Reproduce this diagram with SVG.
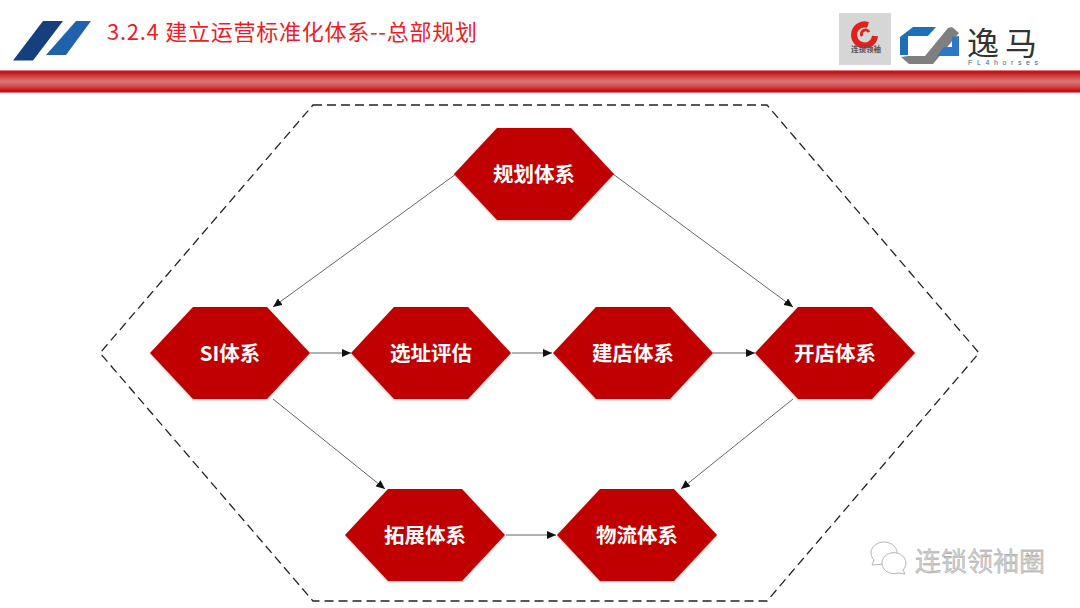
<svg xmlns="http://www.w3.org/2000/svg" width="1080" height="608" viewBox="0 0 1080 608">
<style>
text{font-family:"Noto Sans CJK SC","Liberation Sans",sans-serif}
.hex{fill:#c00000;filter:url(#sh)}
.lab{fill:#fff;font-size:20.500px;font-weight:700;text-anchor:middle}
.con{fill:none;stroke:#666;stroke-width:1;marker-end:url(#arr)}
</style>
<defs>
<marker id="arr" markerUnits="userSpaceOnUse" markerWidth="10" markerHeight="8" refX="9" refY="4" orient="auto"><path d="M0 0L9 4L0 8Z" fill="#111"/></marker>
<polygon id="hx" points="-80,0 -37,-46 37,-46 80,0 37,46 -37,46"/>
<linearGradient id="bar" x1="0" y1="0" x2="0" y2="1"><stop offset="0" stop-color="#f0a8a0"/><stop offset=".07" stop-color="#c00d10"/><stop offset=".3" stop-color="#d0484a"/><stop offset=".5" stop-color="#dc7676"/><stop offset=".72" stop-color="#d04a4c"/><stop offset=".93" stop-color="#bf0508"/><stop offset="1" stop-color="#f3aaa0"/></linearGradient>
<filter id="sh" x="-5%" y="-5%" width="110%" height="115%"><feDropShadow dx="0" dy="1" stdDeviation="1" flood-color="#000" flood-opacity=".25"/></filter>
</defs>
<rect width="1080" height="608" fill="#fff"/>
<g id="header">
<rect x="0" y="70" width="1080" height="23" fill="url(#bar)"/>
<polygon points="13,60.500 43,21 63,21 33,60.500" fill="#163f7e"/>
<polygon points="46,55 76,21 91,21 66,55" fill="#1f62ab"/>
<text x="107" y="40" font-size="22" textLength="370" lengthAdjust="spacing" fill="#ee1c25">3.2.4 建立运营标准化体系--总部规划</text>
</g>
<g id="logos">
<rect x="839" y="13" width="52" height="52" fill="#d6d6d6"/>
<path d="M868 25A10.500 10.500 0 1 0 875 36" fill="none" stroke="#e0201c" stroke-width="6"/>
<path d="M862 36A4 4 0 0 1 869 32" fill="none" stroke="#e0201c" stroke-width="3"/>
<text x="866" y="52" font-size="7.500" font-weight="700" fill="#555" text-anchor="middle">连锁领袖</text>
<polygon points="900,37 913,27 936,27 928,36 908,36 908,55 900,55" fill="#1f6fb8"/>
<polygon points="901,57 909,64 933,64 959,33 952,27 948,28 925,56 908,56" fill="#7f7f80"/>
<polygon points="959,36 959,56 937,56 944,47 952,47 952,37" fill="#2b78c8"/>
<text x="967" y="55" font-size="32" fill="#333">逸</text>
<text x="1005" y="55" font-size="32" fill="#333">马</text>
<text x="968" y="65" font-size="7" fill="#3b5f86" textLength="70" style="font-family:'Liberation Sans',sans-serif">FL4horses</text>
</g>
<polygon id="frame" points="313,105 767,105 979,353 767,601 313,601 100,353" fill="none" stroke="#222" stroke-width="1.300" stroke-dasharray="9 5"/>
<g id="connectors">
<path class="con" d="M456 174L273 307"/>
<path class="con" d="M613 174L793 307"/>
<path class="con" d="M310 353H351"/>
<path class="con" d="M512 353H552"/>
<path class="con" d="M713 353H755"/>
<path class="con" d="M273 399L385 489"/>
<path class="con" d="M793 399L681 489"/>
<path class="con" d="M506 535H556"/>
</g>
<g id="guihua"><use href="#hx" class="hex" x="534" y="174"/><text class="lab" x="534" y="182">规划体系</text></g>
<g id="si"><use href="#hx" class="hex" x="230" y="353"/><text class="lab" x="230" y="361">SI体系</text></g>
<g id="xuanzhi"><use href="#hx" class="hex" x="431" y="353"/><text class="lab" x="431" y="361">选址评估</text></g>
<g id="jiandian"><use href="#hx" class="hex" x="633" y="353"/><text class="lab" x="633" y="361">建店体系</text></g>
<g id="kaidian"><use href="#hx" class="hex" x="835" y="353"/><text class="lab" x="835" y="361">开店体系</text></g>
<g id="tuozhan"><use href="#hx" class="hex" x="425" y="535"/><text class="lab" x="425" y="543">拓展体系</text></g>
<g id="wuliu"><use href="#hx" class="hex" x="637" y="535"/><text class="lab" x="637" y="543">物流体系</text></g>
<g id="wechat">
<g fill="#fff" stroke="#b5b5b5" stroke-width="1">
<path d="M872 565L874 560A13 11 0 1 1 884 564Z"/>
<path d="M905 574L903 570A12 10.500 0 1 0 898 573Z"/>
</g>
<text x="915" y="571" font-size="26" fill="#cfcfcf" stroke="#8f8f8f" stroke-width=".3">连锁领袖圈</text>
</g>
</svg>
